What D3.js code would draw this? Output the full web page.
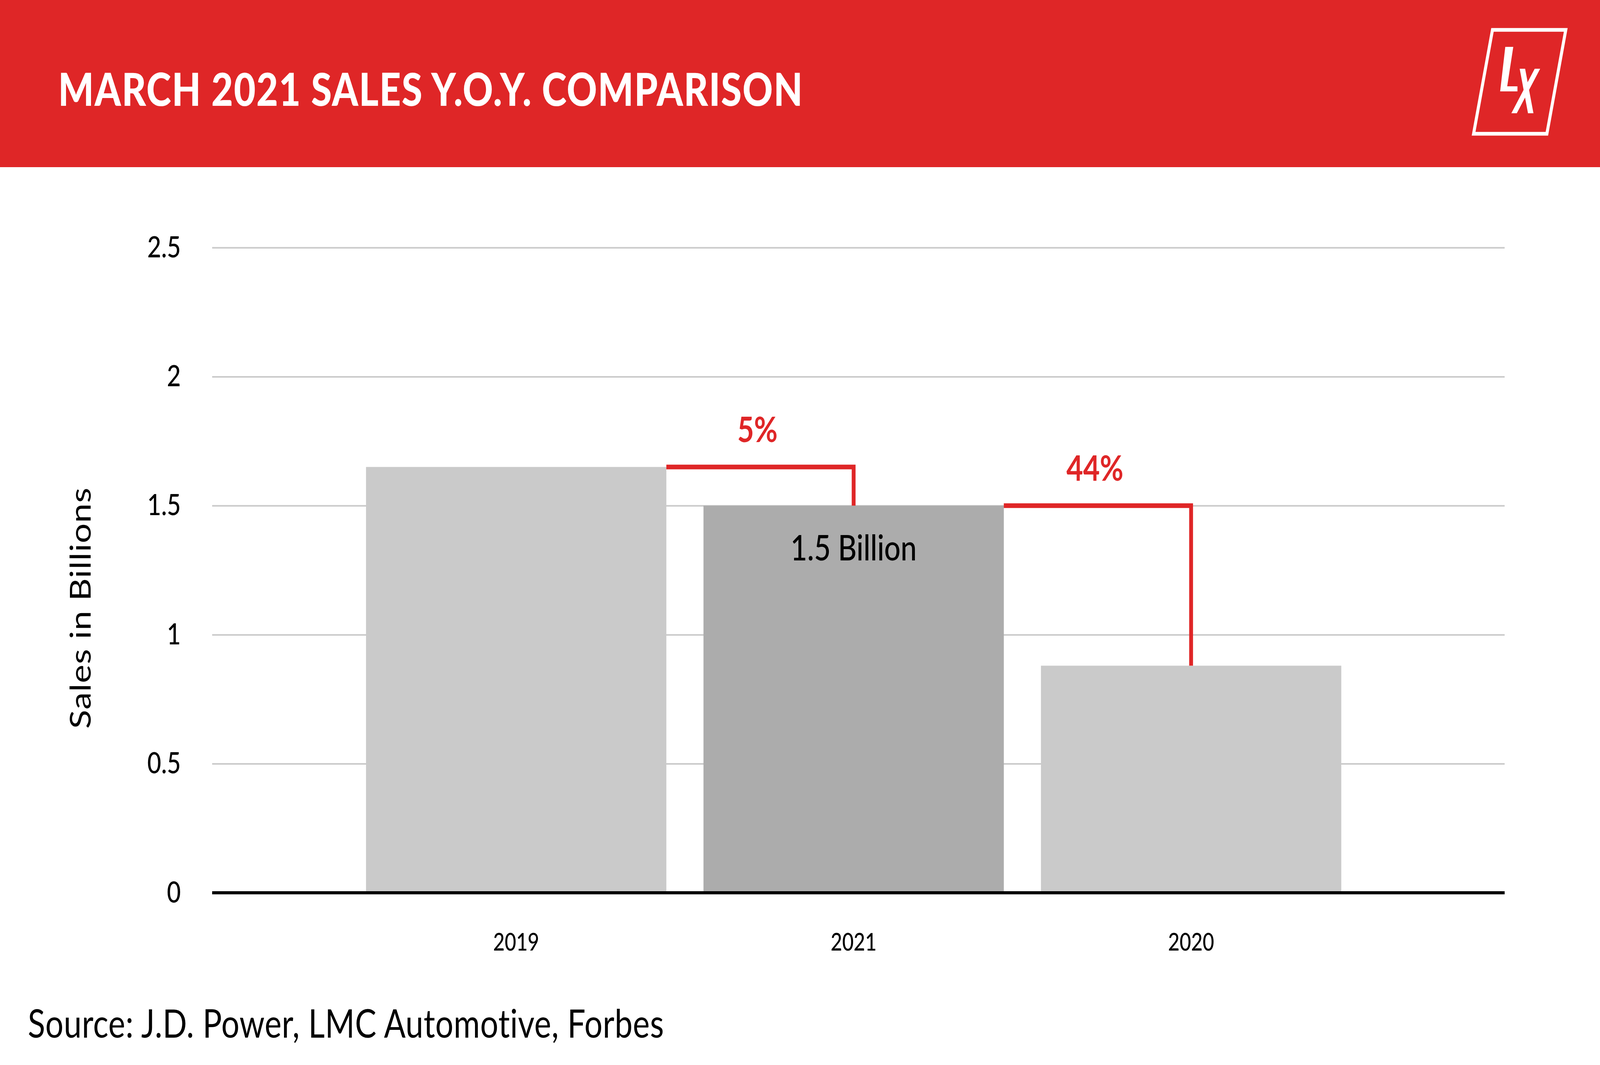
<!DOCTYPE html>
<html>
<head>
<meta charset="utf-8">
<script src="https://cdn.jsdelivr.net/npm/d3@7"></script>
<style>
  html, body { margin: 0; padding: 0; background: #fff; overflow: hidden; }
  svg { display: block; width: 100vw; height: 100vh; font-family: Lato, "Open Sans", sans-serif; }
</style>
</head>
<body>
<svg id="chart" viewBox="0 0 5000 2727" preserveAspectRatio="none"></svg>
<script>
// data
const years = ['2019', '2021', '2020'];
const sales = [1.65, 1.5, 0.88];      // billions
const highlightYear = '2021';
const changeLabels = ['5%', '44%'];   // between consecutive bars
const yTicks = [0, 0.5, 1, 1.5, 2, 2.5];
const yTickLabels = ['0', '0.5', '1', '1.5', '2', '2.5'];

const W = 5000, H = 2727;
const red = '#df2627';
const margin = { top: 634, left: 663, right: 298, bottom: 441 };
const plotW = W - margin.left - margin.right;

const svg = d3.select('#chart');

// header band
svg.append('rect')
    .attr('width', W)
    .attr('height', 428)
    .attr('fill', red);

svg.append('text')
    .attr('x', 182)
    .attr('y', 271)
    .attr('fill', '#fff')
    .attr('font-size', 117)
    .attr('font-weight', 900)
    .attr('letter-spacing', 2.5)
    .text('MARCH 2021 SALES Y.O.Y. COMPARISON');

// LX logo
const logo = svg.append('g');
logo.append('path')
    .attr('d', 'M4664,76.5 L4893,76.5 L4834,342.5 L4605,342.5 Z')
    .attr('fill', 'none')
    .attr('stroke', '#fff')
    .attr('stroke-width', 9.5);
logo.append('path')
    .attr('d', 'M4704,120 L4729,120 L4710,221 L4742,221 L4742,234 L4688,234 Z')
    .attr('fill', '#fff');
logo.append('path')
    .attr('d', 'M4749,176 L4766,176 L4792,290 L4775,290 Z')
    .attr('fill', '#fff');
logo.append('path')
    .attr('d', 'M4796,176 L4813,176 L4740,290 L4723,290 Z')
    .attr('fill', '#fff');

// scales
const x = d3.scaleBand()
    .domain(years)
    .range([margin.left, margin.left + plotW])
    .paddingInner(0.11)
    .paddingOuter(0.47)
    .align(0.485);

const y = d3.scaleLinear()
    .domain([0, 2.5])
    .range([2286, margin.top]);

// gridlines
const grid = svg.append('g')
    .attr('transform', `translate(${margin.left},0)`)
    .call(d3.axisLeft(y).tickValues(yTicks.slice(1)).tickSize(-plotW).tickFormat(''));
grid.select('.domain').remove();
grid.selectAll('line').attr('stroke', '#cacaca').attr('stroke-width', 4);

// y axis labels
const yAxis = svg.append('g')
    .attr('transform', `translate(${margin.left},0)`)
    .call(d3.axisLeft(y)
        .tickValues(yTicks)
        .tickSize(0)
        .tickPadding(98)
        .tickFormat((d, i) => yTickLabels[i]));
yAxis.select('.domain').remove();
yAxis.selectAll('text')
    .attr('font-family', 'Lato, sans-serif')
    .attr('font-size', 75)
    .attr('font-weight', 500)
    .attr('fill', '#000');

svg.append('text')
    .attr('transform', 'translate(283,1557) rotate(-90)')
    .attr('text-anchor', 'middle')
    .attr('font-size', 90)
    .attr('letter-spacing', 1)
    .attr('fill', '#000')
    .text('Sales in Billions');

// bars
svg.append('g')
    .selectAll('rect')
    .data(years)
    .join('rect')
    .attr('x', d => x(d))
    .attr('y', (d, i) => y(sales[i]))
    .attr('width', x.bandwidth())
    .attr('height', (d, i) => y(0) - y(sales[i]))
    .attr('fill', d => d === highlightYear ? '#acacac' : '#cacaca');

// x axis
const xAxis = svg.append('g')
    .attr('transform', `translate(0,${y(0)})`)
    .call(d3.axisBottom(x).tickSize(0).tickPadding(104));
xAxis.select('.domain').remove();
xAxis.selectAll('text')
    .attr('font-family', 'Lato, sans-serif')
    .attr('font-size', 62)
    .attr('font-weight', 500)
    .attr('fill', '#000');

svg.append('line')
    .attr('x1', margin.left)
    .attr('x2', margin.left + plotW)
    .attr('y1', y(0))
    .attr('y2', y(0))
    .attr('stroke', '#000')
    .attr('stroke-width', 8);

// value label on highlighted bar
const hi = years.indexOf(highlightYear);
svg.append('text')
    .attr('x', x(highlightYear) + x.bandwidth() / 2)
    .attr('y', y(sales[hi]) + 140)
    .attr('text-anchor', 'middle')
    .attr('font-size', 90)
    .attr('font-weight', 500)
    .attr('fill', '#000')
    .text(d3.format('.1f')(sales[hi]) + ' Billion');

// change connectors
const changes = changeLabels.map((label, i) => ({
    label,
    x0: x(years[i]) + x.bandwidth(),
    x1: x(years[i + 1]) + x.bandwidth() / 2,
    y0: y(sales[i]),
    y1: y(sales[i + 1])
}));

svg.append('g')
    .selectAll('path')
    .data(changes)
    .join('path')
    .attr('d', d => `M${d.x0},${d.y0} H${d.x1} V${d.y1}`)
    .attr('fill', 'none')
    .attr('stroke', red)
    .attr('stroke-width', 12);

svg.append('g')
    .selectAll('text')
    .data(changes)
    .join('text')
    .attr('x', d => (d.x0 + d.x1) / 2 - 8)
    .attr('y', d => d.y0 - 64)
    .attr('text-anchor', 'middle')
    .attr('font-size', 90)
    .attr('font-weight', 700)
    .attr('fill', red)
    .text(d => d.label);

// source
svg.append('text')
    .attr('x', 87)
    .attr('y', 2657)
    .attr('font-size', 100)
    .attr('letter-spacing', 0.8)
    .attr('fill', '#000')
    .text('Source: J.D. Power, LMC Automotive, Forbes');
</script>
</body>
</html>
